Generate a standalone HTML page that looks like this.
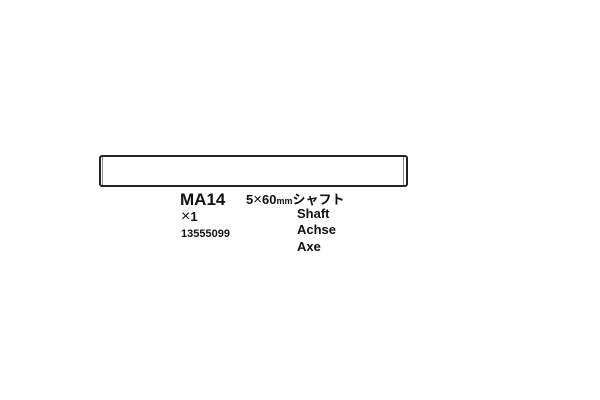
<!DOCTYPE html>
<html><head><style>
body{margin:0;width:600px;height:400px;background:#fff;position:relative;overflow:hidden;font-family:"Liberation Sans","Noto Sans CJK JP",sans-serif;color:#111}
.t{position:absolute;white-space:nowrap;line-height:1}
</style></head><body>
<div style="position:absolute;left:99px;top:155px;width:305px;height:28px;border:2px solid #222;border-radius:3px"></div>
<div style="position:absolute;left:102px;top:157px;width:1px;height:28px;background:#888"></div>
<div style="position:absolute;left:403px;top:157px;width:1px;height:28px;background:#888"></div>
<div class="t" style="left:180px;top:191px;font-size:17px;font-weight:bold">MA14</div>
<div class="t" style="left:246px;top:192px;font-size:13px;font-weight:bold">5<span style="font-size:15px;font-weight:normal">×</span>60<span style="font-size:9px">mm</span>シャフト</div>
<div class="t" style="left:181px;top:209px;font-size:13px;font-weight:bold"><span style="font-size:16px;font-weight:normal">×</span>1</div>
<div class="t" style="left:181px;top:229px;font-size:11px;font-weight:bold">13555099</div>
<div class="t" style="left:297px;top:207px;font-size:13px;font-weight:bold">Shaft</div>
<div class="t" style="left:297px;top:223px;font-size:13px;font-weight:bold">Achse</div>
<div class="t" style="left:297px;top:240px;font-size:13px;font-weight:bold">Axe</div>
</body></html>
